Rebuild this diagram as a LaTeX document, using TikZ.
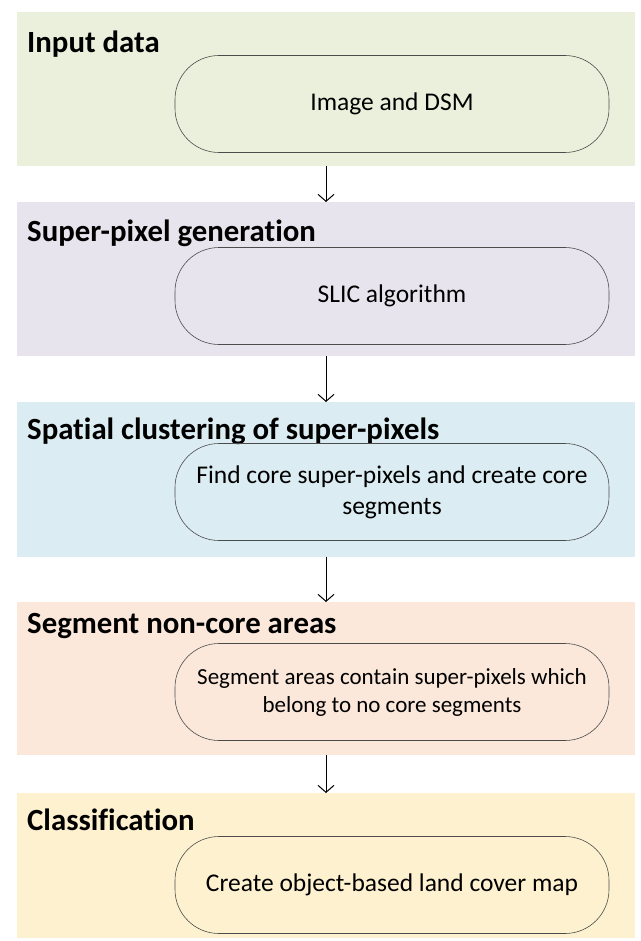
\documentclass[tikz,border=0pt]{standalone}
\usepackage{fontspec}
\setmainfont{Carlito}[Ligatures=NoCommon]
\usepackage{tikz}
\usetikzlibrary{positioning,arrows.meta}

\definecolor{inputbg}{HTML}{EBF0DD}
\definecolor{superbg}{HTML}{E8E4EE}
\definecolor{spatialbg}{HTML}{DBECF2}
\definecolor{segmentbg}{HTML}{FBE8DB}
\definecolor{classbg}{HTML}{FDF1CF}

\tikzset{
  stage/.style={anchor=north west, minimum width=618pt, inner sep=0pt, outer sep=0pt, draw=none},
  stagetitle/.style={anchor=base west, inner sep=0pt, font=\fontsize{30.8}{37}\selectfont\bfseries},
  task/.style={draw=black!70, line width=0.6pt, rounded corners=44pt, minimum width=434pt,
    minimum height=97pt, align=center, font=\fontsize{25.5}{31}\selectfont},
  flow/.style={line width=1pt, -{Straight Barb[length=7pt,width=16pt,line width=1pt]}}
}

\begin{document}
\begin{tikzpicture}[x=1pt,y=-1pt]
\useasboundingbox (0,0) rectangle (640,941);

% panels
\node[stage, fill=inputbg, minimum height=154pt] (input) at (17,12) {};
\node[stage, fill=superbg, minimum height=154pt] (super) at (17,202) {};
\node[stage, fill=spatialbg, minimum height=155pt] (spatial) at (17,402) {};
\node[stage, fill=segmentbg, minimum height=153pt] (segment) at (17,602) {};
\node[stage, fill=classbg, minimum height=145pt] (class) at (17,793) {};

% titles
\node[stagetitle] (inputT) at (27,53) {Input data};
\node[stagetitle] (superT) at (27,241) {Super-pixel generation};
\node[stagetitle] (spatialT) at (27,439) {Spatial clustering of super-pixels};
\node[stagetitle] (segmentT) at (27,633) {Segment non-core areas};
\node[stagetitle] (classT) at (27,830) {Classification};

% steps
\node[task] (inputB) at (392,104) {Image and DSM};
\node[task] (superB) at (392,296) {SLIC algorithm};
\node[task] (spatialB) at (392,492) {Find core super-pixels and create core\\segments};
\node[task, font=\fontsize{23}{28}\selectfont] (segmentB) at (392,692) {Segment areas contain super-pixels which\\belong to no core segments};
\node[task] (classB) at (392,885) {Create object-based land cover map};

% arrows
\draw[flow] (input.south) -- (super.north);
\draw[flow] (super.south) -- (spatial.north);
\draw[flow] (spatial.south) -- (segment.north);
\draw[flow] (segment.south) -- (class.north);
\end{tikzpicture}
\end{document}
